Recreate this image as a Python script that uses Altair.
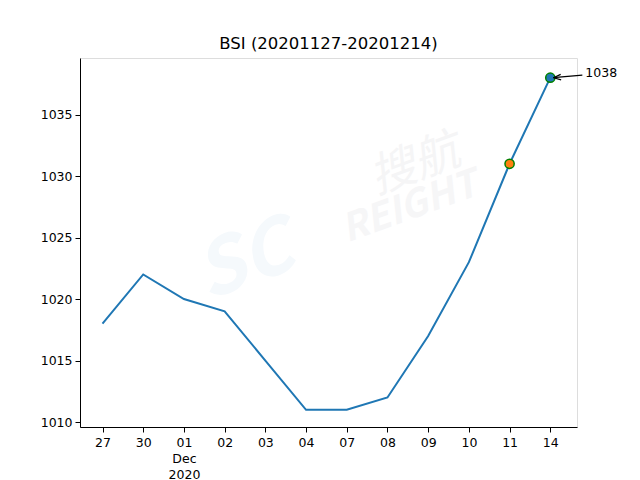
import altair as alt
import pandas as pd

tick_labels = ["27", "30", "01\nDec\n2020", "02", "03", "04", "07", "08", "09", "10", "11", "14"]
bsi_values = [1018, 1022, 1020, 1019, 1015, 1011, 1011, 1012, 1017, 1023, 1031, 1038]
marker_idx = [10, 11]
marker_fill = ["#ff7f0e", "#1f77b4"]
annot_text = "1038"

idx = list(range(len(bsi_values)))
df = pd.DataFrame({"idx": idx, "value": bsi_values})
mk = pd.DataFrame({"idx": marker_idx,
                   "value": [bsi_values[i] for i in marker_idx],
                   "fill": marker_fill})

FONT = "DejaVu Sans"
label_expr = ("split([" + ",".join("'" + l.replace("\n", "|") + "'" for l in tick_labels)
              + "][datum.value], '|')")

xscale = alt.Scale(domain=[-0.553, 11.656], nice=False, zero=False)
yscale = alt.Scale(domain=[1009.6, 1039.6], nice=False, zero=False)

x_axis = alt.Axis(values=idx, labelExpr=label_expr, grid=False, tickColor="black",
                  domainColor="black", tickSize=5, labelPadding=4, labelFontSize=12.5,
                  labelFont=FONT, labelColor="black", labelLineHeight=16, title=None,
                  labelBaseline="top", labelAngle=0)
y_axis = alt.Axis(values=[1010, 1015, 1020, 1025, 1030, 1035], format="d", grid=False,
                  tickColor="black", domainColor="black", tickSize=5, labelPadding=3,
                  labelFontSize=12.5, labelFont=FONT, labelColor="black", title=None)

base = alt.Chart(df)
line = base.mark_line(color="#1f77b4", strokeWidth=2).encode(
    x=alt.X("idx:Q", scale=xscale, axis=x_axis),
    y=alt.Y("value:Q", scale=yscale, axis=y_axis),
)

points = alt.Chart(mk).mark_point(filled=True, size=85, stroke="green", strokeWidth=1.5,
                                  opacity=1).encode(
    x=alt.X("idx:Q", scale=xscale),
    y=alt.Y("value:Q", scale=yscale),
    fill=alt.Fill("fill:N", scale=None),
)

ann = pd.DataFrame({"x": [11.787], "x2": [11.07], "y": [1038.2], "y2": [1038.0],
                    "tx": [11.86], "ty": [1038.4], "ax": [11.17], "ay": [1038.02],
                    "label": [annot_text]})
arrow_line = alt.Chart(ann).mark_rule(color="black", strokeWidth=1.2).encode(
    x=alt.X("x:Q", scale=xscale), x2="x2:Q",
    y=alt.Y("y:Q", scale=yscale), y2="y2:Q",
)
arrow_head = alt.Chart(ann).mark_point(shape="M-1,0 L1,-0.75 M-1,0 L1,0.75", filled=False,
                                       stroke="black", strokeWidth=1.2, size=55,
                                       angle=355, opacity=1).encode(
    x=alt.X("ax:Q", scale=xscale),
    y=alt.Y("ay:Q", scale=yscale),
)
ann_text = alt.Chart(ann).mark_text(align="left", baseline="middle", fontSize=12.5,
                                    font=FONT, color="black").encode(
    x=alt.X("tx:Q", scale=xscale),
    y=alt.Y("ty:Q", scale=yscale),
    text="label:N",
)

wm_bold = pd.DataFrame({"t": ["REIGHT", "SC"], "px": [410, 245], "py": [208, 262],
                        "fs": [38, 76], "c": ["#f6f6f7", "#f5f9fc"]})
wm_thin = pd.DataFrame({"t": ["搜航"], "px": [415], "py": [165], "fs": [46], "c": ["#f5f5f6"]})


def wm_layer(data, weight):
    return alt.Chart(data).mark_text(angle=340, fontStyle="italic", fontWeight=weight,
                                     font="Noto Sans CJK SC").transform_calculate(
        px="datum.px - 80", py="datum.py - 58").encode(
        x=alt.X("px:Q", scale=None), y=alt.Y("py:Q", scale=None),
        text="t:N", size=alt.Size("fs:Q", scale=None), color=alt.Color("c:N", scale=None))


chart = alt.layer(wm_layer(wm_bold, "bold"), wm_layer(wm_thin, "normal"),
                  line, points, arrow_line, arrow_head, ann_text).properties(
    width=497, height=369,
    title=alt.TitleParams("BSI (20201127-20201214)", font=FONT, fontSize=16.5,
                          fontWeight="normal", color="black", anchor="middle", offset=6),
    autosize=alt.AutoSizeParams(type="none"),
    padding={"left": 72, "top": 50, "right": 55, "bottom": 53},
).configure_view(stroke="black", strokeWidth=1).configure(background="white")

chart.save("out.html", embed_options={"renderer": "svg", "actions": False})
